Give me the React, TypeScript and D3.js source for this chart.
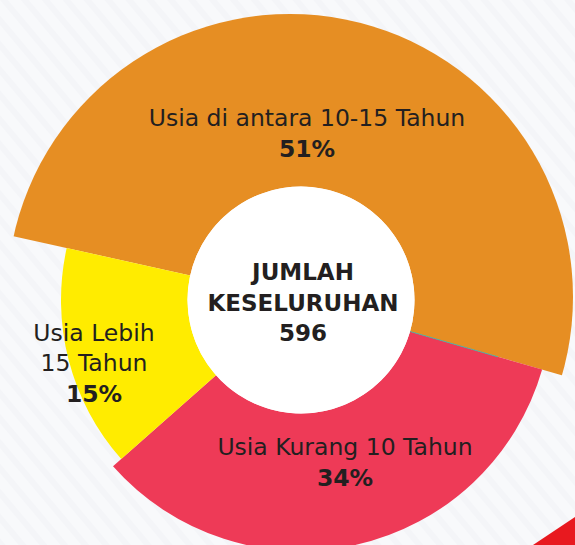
import React from 'react'
import * as d3 from 'd3'

const categories = ['Usia di antara 10-15 Tahun', 'Usia Kurang 10 Tahun', 'Usia Lebih 15 Tahun']
const shares = [51, 34, 15]
const pctLabels = ['51%', '34%', '15%']
const labelLines = [['Usia di antara 10-15 Tahun'], ['Usia Kurang 10 Tahun'], ['Usia Lebih', '15 Tahun']]
const centerLines = ['JUMLAH', 'KESELURUHAN', '596']

const W = 575
const H = 545
const cx = 301
const cy = 300
const colors = ['#E68E23', '#EE3A57', '#FFEC00']
const outerR = [300, 251, 240]
const innerR = 113.5
// the orange slice's rim is not centred on the hole in the original
const orangeRim = { dx: -11, dy: -3, r: 283 }
// label anchors (centre x, first baseline)
const labelPos = [[307, 126], [345, 455], [94, 341]]
const font = '"DejaVu Sans", sans-serif'
const ink = '#231F20'

const App = () => {
  const pie = d3.pie<number>().sort(null).value(d => d)
    .startAngle(-77.5 * Math.PI / 180).endAngle(282.5 * Math.PI / 180)
  const arcs = pie(shares)
  const arc = d3.arc<d3.PieArcDatum<number>>()

  // thin teal seam on the orange/red boundary
  const seamA = arcs[0].endAngle
  const seam = [innerR, 205].map(r => [Math.sin(seamA) * r, -Math.cos(seamA) * r])

  return (
    <svg width={W} height={H} style={{ position: 'absolute', left: 0, top: 0, display: 'block' }}>
      <defs>
        <pattern id="stripes" width="16" height="16" patternUnits="userSpaceOnUse" patternTransform="rotate(-40)">
          <rect width="16" height="16" fill="#F8F9FB" />
          <rect width="6" height="16" fill="#F4F5F8" />
        </pattern>
        <clipPath id="orangeClip">
          <circle cx={orangeRim.dx} cy={orangeRim.dy} r={orangeRim.r} />
        </clipPath>
      </defs>
      <rect width={W} height={H} fill="url(#stripes)" />
      <path d={`M${W - 42},${H} L${W},${H - 28} L${W},${H} Z`} fill="#E8191F" />

      <g transform={`translate(${cx},${cy})`}>
        {arcs.map((a, i) => (
          <path key={categories[i]}
            d={arc({ ...a, innerRadius: innerR, outerRadius: outerR[i] } as any) || ''}
            fill={colors[i]}
            clipPath={i === 0 ? 'url(#orangeClip)' : undefined} />
        ))}
        <line x1={seam[0][0]} y1={seam[0][1]} x2={seam[1][0]} y2={seam[1][1]} stroke="#3DB5A8" strokeWidth={0.9} />
        <circle r={innerR} fill="#fff" />
        {centerLines.map((t, i) => (
          <text key={t} x={2} y={-20 + i * 30.5} textAnchor="middle" fontFamily={font} fontWeight="bold"
            fontSize={23} fill={ink}>{t}</text>
        ))}
      </g>

      {labelLines.map((lines, i) => (
        <text key={categories[i]} textAnchor="middle" fontFamily={font} fontSize={23.5} fill={ink}>
          {lines.map((l, j) => (
            <tspan key={l} x={labelPos[i][0]} y={labelPos[i][1] + j * 30}>{l}</tspan>
          ))}
          <tspan x={labelPos[i][0]} y={labelPos[i][1] + lines.length * 30.5} fontWeight="bold">{pctLabels[i]}</tspan>
        </text>
      ))}
    </svg>
  )
}

export default App
